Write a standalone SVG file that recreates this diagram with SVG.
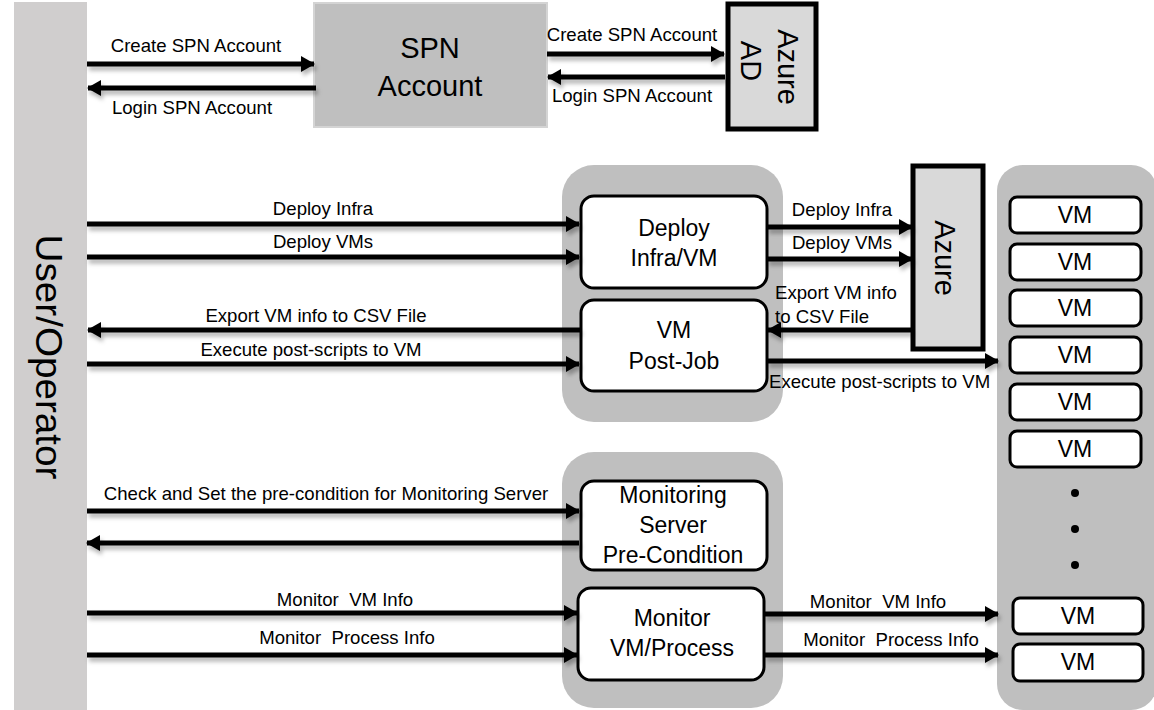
<svg xmlns="http://www.w3.org/2000/svg" width="1154" height="710" viewBox="0 0 1154 710">
<style>
.lbl{font-family:"Liberation Sans",Arial,sans-serif;font-size:18.6px;fill:#000;white-space:pre}
.node{font-family:"Liberation Sans",Arial,sans-serif;font-size:23px;fill:#000;text-anchor:middle}
.big{font-family:"Liberation Sans",Arial,sans-serif;font-size:29px;fill:#000;text-anchor:middle}
.wbox{fill:#fff;stroke:#000;stroke-width:3}
.cont{fill:#bfbfbf}
.ln{stroke:#000;stroke-width:5;fill:none}
</style>
<defs>
<marker id="ah" markerUnits="userSpaceOnUse" markerWidth="14" markerHeight="16" refX="13" refY="8" orient="auto">
<path d="M0,0 L14,8 L0,16 Z" fill="#000"/>
</marker>
<filter id="sh" x="-5%" y="-50%" width="110%" height="300%">
<feDropShadow dx="2" dy="4" stdDeviation="2" flood-color="#000" flood-opacity="0.3"/>
</filter>
</defs>
<rect width="1154" height="710" fill="#fff"/>

<g id="user">
<rect x="14" y="2" width="73" height="708" fill="#d0cece"/>
<text class="big" transform="translate(36,357) rotate(90)" style="font-size:36px" textLength="245" lengthAdjust="spacingAndGlyphs">User/Operator</text>
</g>

<g id="spn">
<rect x="314" y="3" width="233" height="124" fill="#bfbfbf" stroke="#d4d4d4" stroke-width="2"/>
<text class="big" x="430" y="58">SPN</text>
<text class="big" x="430" y="96">Account</text>
</g>

<g id="azuread">
<rect x="728" y="4" width="88" height="125" fill="#d9d9d9" stroke="#000" stroke-width="5"/>
<text class="big" transform="translate(778,67) rotate(90)">Azure</text>
<text class="big" transform="translate(741,61) rotate(90)">AD</text>
</g>

<g id="deploy-group">
<rect class="cont" x="562" y="165" width="221" height="257" rx="32"/>
</g>
<g id="deploy">
<rect class="wbox" x="581" y="196" width="186" height="92" rx="13"/>
<text class="node" x="674" y="236">Deploy</text>
<text class="node" x="674" y="266">Infra/VM</text>
</g>
<g id="postjob">
<rect class="wbox" x="581" y="300" width="186" height="91" rx="13"/>
<text class="node" x="674" y="338">VM</text>
<text class="node" x="674" y="369">Post-Job</text>
</g>

<g id="azure">
<rect x="913" y="166" width="70" height="183" fill="#d9d9d9" stroke="#000" stroke-width="5"/>
<text class="big" transform="translate(935,258) rotate(90)">Azure</text>
</g>

<g id="monitor-group">
<rect class="cont" x="562" y="452" width="221" height="256" rx="32"/>
</g>
<g id="precond">
<rect class="wbox" x="581" y="481" width="186" height="89" rx="13"/>
<text class="node" x="673" y="503">Monitoring</text>
<text class="node" x="673" y="533">Server</text>
<text class="node" x="673" y="563">Pre-Condition</text>
</g>
<g id="monitor">
<rect class="wbox" x="578" y="588" width="186" height="92" rx="13"/>
<text class="node" x="672" y="626">Monitor</text>
<text class="node" x="672" y="656">VM/Process</text>
</g>

<g id="vms">
<rect class="cont" x="997" y="165" width="160" height="545" rx="26"/>
<g class="vm">
<rect class="wbox" x="1010" y="197" width="131" height="36" rx="7"/><text class="node" x="1075" y="223">VM</text>
<rect class="wbox" x="1010" y="244" width="131" height="36" rx="7"/><text class="node" x="1075" y="270">VM</text>
<rect class="wbox" x="1010" y="290" width="131" height="36" rx="7"/><text class="node" x="1075" y="316">VM</text>
<rect class="wbox" x="1010" y="337" width="131" height="36" rx="7"/><text class="node" x="1075" y="363">VM</text>
<rect class="wbox" x="1010" y="384" width="131" height="36" rx="7"/><text class="node" x="1075" y="410">VM</text>
<rect class="wbox" x="1010" y="431" width="131" height="36" rx="7"/><text class="node" x="1075" y="457">VM</text>
<circle cx="1075" cy="493" r="4" fill="#000"/>
<circle cx="1075" cy="529" r="4" fill="#000"/>
<circle cx="1075" cy="565" r="4" fill="#000"/>
<rect class="wbox" x="1013" y="598" width="130" height="36" rx="7"/><text class="node" x="1078" y="624">VM</text>
<rect class="wbox" x="1013" y="644" width="130" height="37" rx="7"/><text class="node" x="1078" y="670">VM</text>
</g>
</g>

<g id="connectors" filter="url(#sh)">
<line class="ln" x1="87" y1="64" x2="314" y2="64" marker-end="url(#ah)"/>
<line class="ln" x1="316" y1="88" x2="88" y2="88" marker-end="url(#ah)"/>
<line class="ln" x1="547" y1="54" x2="724" y2="54" marker-end="url(#ah)"/>
<line class="ln" x1="725" y1="77" x2="548" y2="77" marker-end="url(#ah)"/>

<line class="ln" x1="87" y1="224" x2="579" y2="224" marker-end="url(#ah)"/>
<line class="ln" x1="87" y1="257" x2="579" y2="257" marker-end="url(#ah)"/>
<line class="ln" x1="580" y1="330" x2="88" y2="330" marker-end="url(#ah)"/>
<line class="ln" x1="87" y1="364" x2="579" y2="364" marker-end="url(#ah)"/>

<line class="ln" x1="767" y1="227" x2="912" y2="227" marker-end="url(#ah)"/>
<line class="ln" x1="767" y1="259" x2="912" y2="259" marker-end="url(#ah)"/>
<line class="ln" x1="911" y1="330" x2="768" y2="330" marker-end="url(#ah)"/>
<line class="ln" x1="767" y1="361" x2="998" y2="361" marker-end="url(#ah)"/>

<line class="ln" x1="87" y1="511" x2="579" y2="511" marker-end="url(#ah)"/>
<line class="ln" x1="579" y1="543" x2="87" y2="543" marker-end="url(#ah)"/>
<line class="ln" x1="87" y1="613" x2="577" y2="613" marker-end="url(#ah)"/>
<line class="ln" x1="87" y1="655" x2="577" y2="655" marker-end="url(#ah)"/>

<line class="ln" x1="764" y1="614" x2="998" y2="614" marker-end="url(#ah)"/>
<line class="ln" x1="764" y1="655" x2="998" y2="655" marker-end="url(#ah)"/>
</g>

<g id="labels">
<text class="lbl" x="196" y="52" text-anchor="middle">Create SPN Account</text>
<text class="lbl" x="192" y="114" text-anchor="middle">Login SPN Account</text>
<text class="lbl" x="632" y="41" text-anchor="middle">Create SPN Account</text>
<text class="lbl" x="632" y="102" text-anchor="middle">Login SPN Account</text>

<text class="lbl" x="323" y="215" text-anchor="middle">Deploy Infra</text>
<text class="lbl" x="323" y="248" text-anchor="middle">Deploy VMs</text>
<text class="lbl" x="316" y="322" text-anchor="middle">Export VM info to CSV File</text>
<text class="lbl" x="311" y="356" text-anchor="middle">Execute post-scripts to VM</text>

<text class="lbl" x="842" y="216" text-anchor="middle">Deploy Infra</text>
<text class="lbl" x="842" y="249" text-anchor="middle">Deploy VMs</text>
<text class="lbl" x="775" y="299">Export VM info</text>
<text class="lbl" x="775" y="323">to CSV File</text>
<text class="lbl" x="769" y="388">Execute post-scripts to VM</text>

<text class="lbl" x="326" y="500" text-anchor="middle">Check and Set the pre-condition for Monitoring Server</text>
<text class="lbl" x="345" y="606" text-anchor="middle" xml:space="preserve">Monitor  VM Info</text>
<text class="lbl" x="347" y="644" text-anchor="middle" xml:space="preserve">Monitor  Process Info</text>
<text class="lbl" x="878" y="608" text-anchor="middle" xml:space="preserve">Monitor  VM Info</text>
<text class="lbl" x="891" y="646" text-anchor="middle" xml:space="preserve">Monitor  Process Info</text>
</g>
</svg>
